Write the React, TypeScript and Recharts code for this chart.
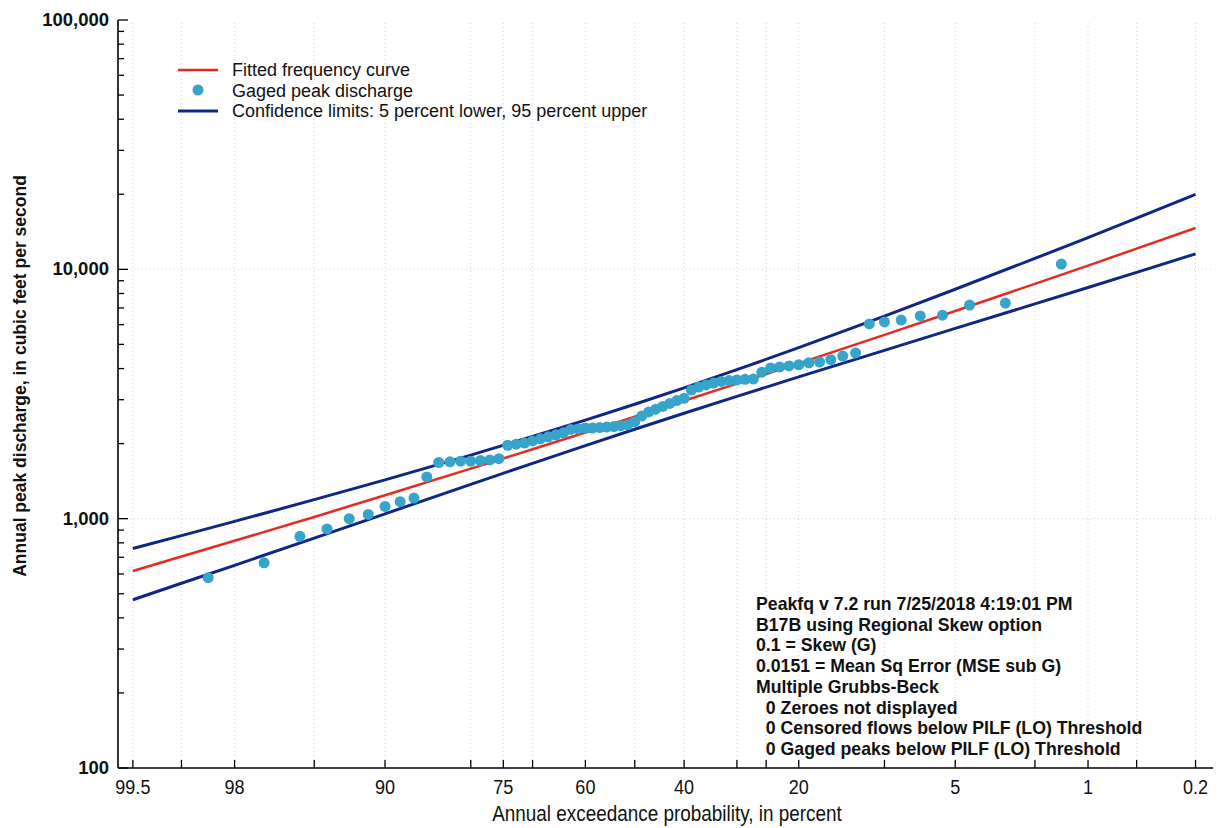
import React from 'react';
import { ComposedChart, Line, Scatter, XAxis, YAxis, Legend, Label, ReferenceLine } from 'recharts';

// x axis: annual exceedance probability (percent), normal-probability scale
const tickProbs = [99.5, 99, 98, 95, 90, 80, 75, 70, 60, 50, 40, 30, 25, 20, 10, 5, 2, 1, 0.5, 0.2];
const labeledProbs = [99.5, 98, 90, 75, 60, 40, 20, 5, 1, 0.2];
const edgeProbs = [99.6, 0.15];

// y axis: discharge, log scale
const yMajor = [100, 1000, 10000, 100000];
const yMinor = [200, 300, 400, 500, 600, 700, 800, 900, 2000, 3000, 4000, 5000, 6000, 7000, 8000, 9000,
  20000, 30000, 40000, 50000, 60000, 70000, 80000, 90000];

// curves, read at these exceedance probabilities
const curveProbs = [99.5, 99, 98, 95, 90, 80, 70, 60, 50, 40, 30, 20, 10, 5, 2, 1, 0.5, 0.2];
const fittedCurve = [617, 705, 815, 1016, 1242, 1587, 1899, 2216, 2564, 2970, 3479, 4197, 5461, 6807, 8748, 10354, 12103, 14655];
const upperLimit = [759, 855, 975, 1192, 1431, 1799, 2136, 2485, 2877, 3348, 3959, 4850, 6492, 8318, 11060, 13413, 16040, 19980];
const lowerLimit = [473, 551, 650, 836, 1046, 1373, 1667, 1963, 2283, 2648, 3095, 3703, 4734, 5794, 7266, 8457, 9723, 11535];

// gaged annual peaks, largest first (Weibull plotting position rank/(n+1))
const gagedPeaks = [
  10500, 7320, 7190, 6550, 6500, 6260, 6150, 6040, 4620, 4490,
  4340, 4250, 4220, 4140, 4100, 4060, 4020, 3870, 3630, 3620,
  3600, 3580, 3550, 3500, 3440, 3370, 3280, 3040, 2980, 2900,
  2820, 2750, 2680, 2580, 2450, 2380, 2360, 2340, 2330, 2320,
  2310, 2310, 2290, 2280, 2210, 2170, 2130, 2090, 2050, 2010,
  1990, 1970, 1740, 1720, 1710, 1700, 1700, 1690, 1680, 1470,
  1210, 1170, 1120, 1040, 1000, 910, 850, 665, 580,
];

const notes = [
  'Peakfq v 7.2 run 7/25/2018 4:19:01 PM',
  'B17B using Regional Skew option',
  '0.1 = Skew (G)',
  '0.0151 = Mean Sq Error (MSE sub G)',
  'Multiple Grubbs-Beck',
  '  0 Zeroes not displayed',
  '  0 Censored flows below PILF (LO) Threshold',
  '  0 Gaged peaks below PILF (LO) Threshold',
];

const RED = '#e32b1f';
const NAVY = '#0f2684';
const DOT = '#36a4cb';
const ARIAL = "'Liberation Sans', Arial, sans-serif";
// the x-axis text is condensed; no narrow face is installed, so squeeze Arial
const SQUEEZE = 0.86;

// inverse standard normal CDF (Acklam)
function probit(p: number): number {
  const a = [-3.969683028665376e1, 2.209460984245205e2, -2.759285104469687e2, 1.38357751867269e2, -3.066479806614716e1, 2.506628277459239];
  const b = [-5.447609879822406e1, 1.615858368580409e2, -1.556989798598866e2, 6.680131188771972e1, -1.328068155288572e1];
  const c = [-7.784894002430293e-3, -3.223964580411365e-1, -2.400758277161838, -2.549732539343734, 4.374664141464968, 2.938163982698783];
  const d = [7.784695709041462e-3, 3.224671290700398e-1, 2.445134137142996, 3.754408661907416];
  const plow = 0.02425;
  if (p < plow) {
    const q = Math.sqrt(-2 * Math.log(p));
    return (((((c[0] * q + c[1]) * q + c[2]) * q + c[3]) * q + c[4]) * q + c[5]) / ((((d[0] * q + d[1]) * q + d[2]) * q + d[3]) * q + 1);
  }
  if (p <= 1 - plow) {
    const q = p - 0.5;
    const r = q * q;
    return (((((a[0] * r + a[1]) * r + a[2]) * r + a[3]) * r + a[4]) * r + a[5]) * q / (((((b[0] * r + b[1]) * r + b[2]) * r + b[3]) * r + b[4]) * r + 1);
  }
  const q = Math.sqrt(-2 * Math.log(1 - p));
  return -(((((c[0] * q + c[1]) * q + c[2]) * q + c[3]) * q + c[4]) * q + c[5]) / ((((d[0] * q + d[1]) * q + d[2]) * q + d[3]) * q + 1);
}

// exceedance percent -> normal deviate (small exceedance plots to the right)
const zOf = (pct: number) => probit(1 - pct / 100);

const xTicks = tickProbs.map(zOf);
const xDomain = edgeProbs.map(zOf);
const yTicks = [...yMajor, ...yMinor].sort((a, b) => a - b);

const fitData = curveProbs.map((p, i) => ({ z: zOf(p), q: fittedCurve[i] }));
const upperData = curveProbs.map((p, i) => ({ z: zOf(p), q: upperLimit[i] }));
const lowerData = curveProbs.map((p, i) => ({ z: zOf(p), q: lowerLimit[i] }));
const peakData = gagedPeaks.map((q, i) => ({ z: zOf((100 * (i + 1)) / (gagedPeaks.length + 1)), q }));

const probOfTick = (v: number) => tickProbs.find((p) => Math.abs(zOf(p) - v) < 1e-9);

const BottomTick = (props: any) => {
  const { x, y, payload } = props;
  const p = probOfTick(payload.value);
  const show = p !== undefined && labeledProbs.includes(p);
  return (
    <g>
      <line x1={x} x2={x} y1={y} y2={y - 8} stroke="#000" strokeWidth={1.3} />
      {show && (
        <text
          transform={`translate(${x}, ${y + 26}) scale(${SQUEEZE}, 1)`}
          textAnchor="middle"
          fontFamily={ARIAL}
          fontSize={21}
          fill="#111"
        >
          {String(p)}
        </text>
      )}
    </g>
  );
};

const TopTick = (props: any) => {
  const { x, y } = props;
  return <line x1={x} x2={x} y1={y} y2={y + 7} stroke="#000" strokeWidth={1.3} />;
};

const fmt = (v: number) => v.toLocaleString('en-US');

const LeftTick = (props: any) => {
  const { x, y, payload } = props;
  const major = yMajor.includes(payload.value);
  return (
    <g>
      <line x1={x} x2={x + (major ? 10 : 6)} y1={y} y2={y} stroke="#000" strokeWidth={1.3} />
      {major && (
        <text x={x - 9} y={y + 6} textAnchor="end" fontFamily={ARIAL} fontWeight="bold" fontSize={18.5} fill="#111">
          {fmt(payload.value)}
        </text>
      )}
    </g>
  );
};

const RightTick = (props: any) => {
  const { x, y, payload } = props;
  const major = yMajor.includes(payload.value);
  return <line x1={x} x2={x - (major ? 10 : 6)} y1={y} y2={y} stroke="#000" strokeWidth={1.3} />;
};

const legendItems = [
  { label: 'Fitted frequency curve', kind: 'line', color: RED, width: 2.5 },
  { label: 'Gaged peak discharge', kind: 'dot', color: DOT, width: 0 },
  { label: 'Confidence limits: 5 percent lower, 95 percent upper', kind: 'line', color: NAVY, width: 3 },
];

const renderLegend = () => (
  <div style={{ fontFamily: ARIAL, fontSize: 18, color: '#111', lineHeight: '20.5px' }}>
    {legendItems.map((it) => (
      <div key={it.label} style={{ display: 'flex', alignItems: 'center', height: 20.5 }}>
        <svg width={40} height={20} style={{ marginRight: 14 }}>
          {it.kind === 'line' ? (
            <line x1={0} x2={40} y1={10} y2={10} stroke={it.color} strokeWidth={it.width} />
          ) : (
            <circle cx={20} cy={9} r={5.5} fill={it.color} />
          )}
        </svg>
        <span style={{ whiteSpace: 'nowrap' }}>{it.label}</span>
      </div>
    ))}
  </div>
);

const YTitle = () => (
  <text
    x={20}
    y={376}
    transform="rotate(-90, 20, 376)"
    textAnchor="middle"
    dominantBaseline="central"
    fontFamily={ARIAL}
    fontWeight="bold"
    fontSize={17.5}
    fill="#111"
  >
    Annual peak discharge, in cubic feet per second
  </text>
);

const XTitle = () => (
  <text
    transform={`translate(667, 821) scale(${SQUEEZE}, 1)`}
    textAnchor="middle"
    fontFamily={ARIAL}
    fontSize={22}
    fill="#111"
  >
    Annual exceedance probability, in percent
  </text>
);

const App: React.FC = () => {
  return (
    <div style={{ position: 'fixed', left: 0, top: 0, width: 1217, height: 828, background: '#fff' }}>
      <ComposedChart width={1217} height={828} margin={{ top: 20, right: 4, bottom: 20, left: 0 }}>
        <XAxis
          dataKey="z"
          type="number"
          domain={xDomain}
          ticks={xTicks}
          interval={0}
          allowDataOverflow
          height={40}
          tickSize={0}
          tickMargin={0}
          tick={<BottomTick />}
          axisLine={{ stroke: '#000', strokeWidth: 1.6 }}
        >
          <Label content={<XTitle />} />
        </XAxis>
        <XAxis
          xAxisId="top"
          orientation="top"
          dataKey="z"
          type="number"
          domain={xDomain}
          ticks={xTicks}
          interval={0}
          allowDataOverflow
          height={0}
          tickSize={0}
          tickMargin={0}
          tick={<TopTick />}
          axisLine={{ stroke: '#000', strokeWidth: 1.6 }}
        />
        <YAxis
          dataKey="q"
          type="number"
          scale="log"
          domain={[100, 100000]}
          ticks={yTicks}
          interval={0}
          allowDataOverflow
          width={118}
          tickSize={0}
          tickMargin={0}
          tick={<LeftTick />}
          axisLine={{ stroke: '#000', strokeWidth: 1.6 }}
        >
          <Label content={<YTitle />} />
        </YAxis>
        <YAxis
          yAxisId="right"
          orientation="right"
          type="number"
          scale="log"
          domain={[100, 100000]}
          ticks={yTicks}
          interval={0}
          allowDataOverflow
          width={0}
          tickSize={0}
          tickMargin={0}
          tick={<RightTick />}
          axisLine={{ stroke: '#000', strokeWidth: 1.6 }}
        />

        {xTicks.map((v) => (
          <ReferenceLine key={`gx-${v}`} x={v} stroke="#d9d4b8" strokeDasharray="1 3" strokeWidth={1} />
        ))}
        {[1000, 10000].map((v) => (
          <ReferenceLine key={`gy-${v}`} y={v} stroke="#d9d4b8" strokeDasharray="1 3" strokeWidth={1} />
        ))}

        <Legend
          layout="vertical"
          align="center"
          verticalAlign="middle"
          content={renderLegend}
          wrapperStyle={{ left: 178, top: 60, width: 600, height: 62 }}
        />

        <Scatter
          name="Gaged peak discharge"
          data={peakData}
          dataKey="q"
          fill={DOT}
          isAnimationActive={false}
          shape={(p: any) => <circle cx={p.cx} cy={p.cy} r={5.5} fill={DOT} />}
        />
        <Line data={upperData} dataKey="q" type="linear" stroke={NAVY} strokeWidth={3} dot={false} isAnimationActive={false} />
        <Line data={lowerData} dataKey="q" type="linear" stroke={NAVY} strokeWidth={3} dot={false} isAnimationActive={false} />
        <Line data={fitData} dataKey="q" type="linear" stroke={RED} strokeWidth={2.5} dot={false} isAnimationActive={false} />
      </ComposedChart>

      <div
        style={{
          position: 'absolute',
          left: 756,
          top: 594,
          fontFamily: ARIAL,
          fontWeight: 'bold',
          fontSize: 17.7,
          lineHeight: '20.7px',
          color: '#111',
          whiteSpace: 'pre',
        }}
      >
        {notes.map((n) => (
          <div key={n}>{n}</div>
        ))}
      </div>
    </div>
  );
};

export default App;
